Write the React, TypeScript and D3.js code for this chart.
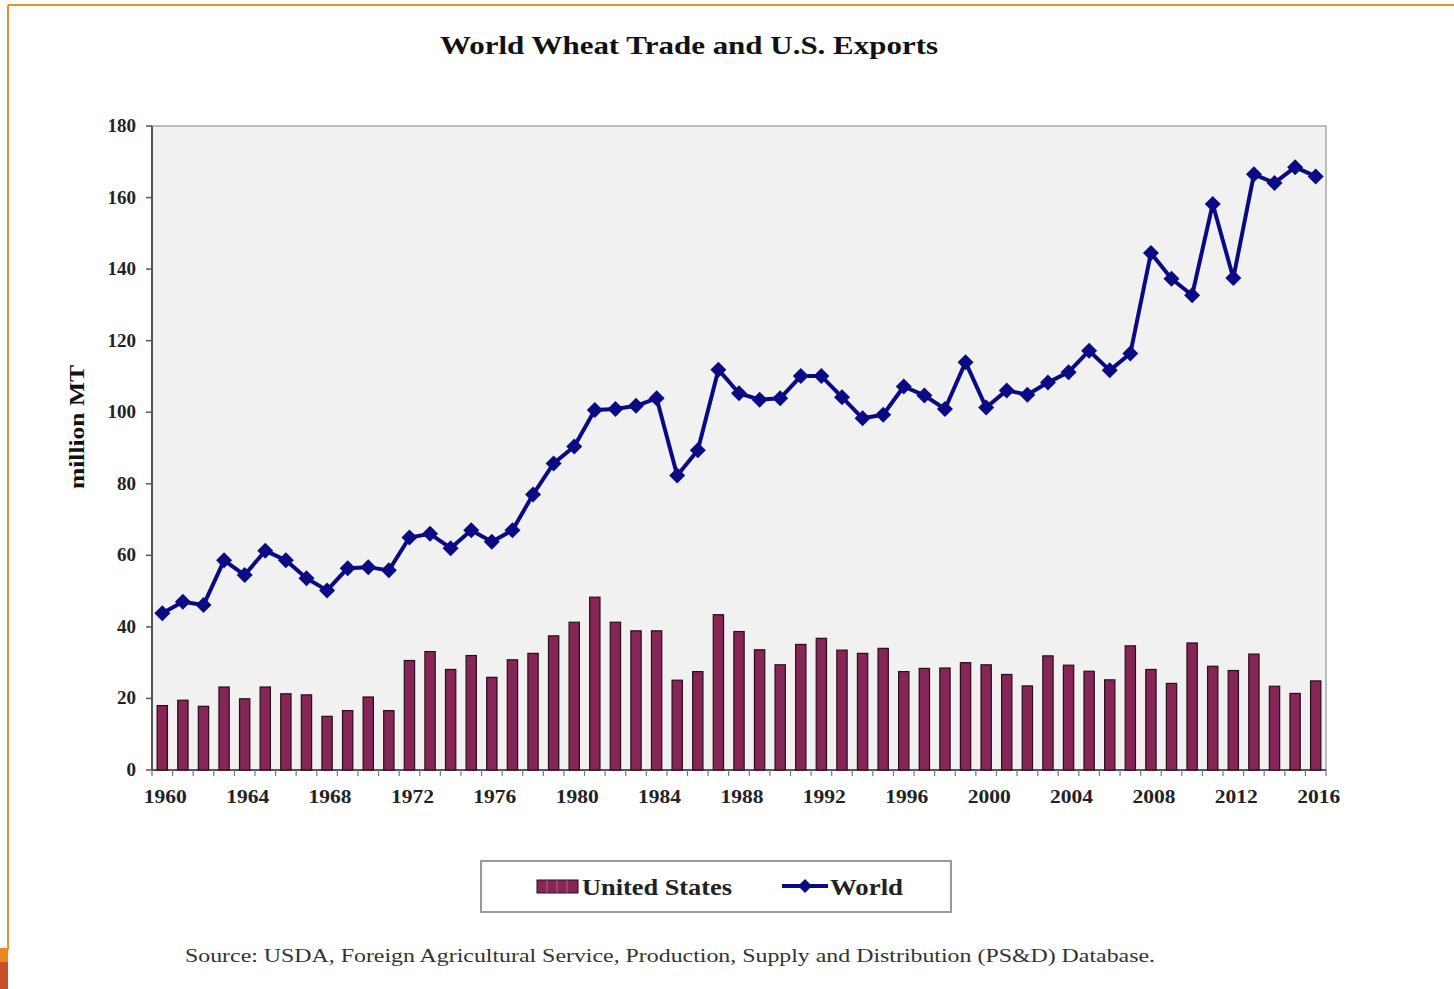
import React from "react";
import * as d3 from "d3";

const years: number[] = d3.range(1960, 2017);

const usExports: number[] = [
  18.0, 19.5, 17.8, 23.2, 19.9, 23.2, 21.3, 21.0, 15.0, 16.6,
  20.4, 16.6, 30.6, 33.1, 28.1, 32.0, 25.9, 30.8, 32.6, 37.5,
  41.3, 48.3, 41.3, 38.9, 38.9, 25.1, 27.5, 43.4, 38.7, 33.6,
  29.4, 35.1, 36.8, 33.5, 32.6, 34.0, 27.5, 28.4, 28.5, 30.0,
  29.4, 26.7, 23.5, 31.9, 29.3, 27.6, 25.2, 34.7, 28.1, 24.2,
  35.5, 29.0, 27.8, 32.4, 23.4, 21.4, 24.9,
];

const worldTrade: number[] = [
  43.8, 47.0, 46.1, 58.6, 54.5, 61.3, 58.6, 53.6, 50.2, 56.4,
  56.7, 55.8, 65.0, 66.0, 62.0, 67.0, 63.8, 67.0, 77.0, 85.7,
  90.4, 100.6, 100.9, 101.8, 103.9, 82.3, 89.4, 111.9, 105.3, 103.5,
  103.9, 110.1, 110.1, 104.2, 98.3, 99.3, 107.2, 104.7, 100.9, 114.0,
  101.3, 106.1, 104.9, 108.3, 111.2, 117.2, 111.7, 116.4, 144.5, 137.3,
  132.7, 158.2, 137.5, 166.5, 164.1, 168.5, 165.9,
];

const yTicks: number[] = [0, 20, 40, 60, 80, 100, 120, 140, 160, 180];
const xLabelYears: number[] = years.filter((y) => (y - 1960) % 4 === 0);

const titleText = "World Wheat Trade and U.S. Exports";
const yAxisTitle = "million MT";
const legendLabels: string[] = ["United States", "World"];
const sourceText =
  "Source: USDA,  Foreign Agricultural Service, Production, Supply and Distribution (PS&D) Database.";

const W = 1454;
const H = 989;
const plot = { left: 152, right: 1326, top: 126, bottom: 770 };
const serif = "'Liberation Serif', 'Times New Roman', serif";
const barFill = "#862656";
const barStroke = "#2a0c1c";
const lineColor = "#0a0a84";

export default function App() {
  const x = d3
    .scaleBand<number>()
    .domain(years)
    .range([plot.left, plot.right])
    .paddingInner(0.5)
    .paddingOuter(0.25);
  const y = d3.scaleLinear().domain([0, 180]).range([plot.bottom, plot.top]);
  const step = (plot.right - plot.left) / years.length;
  const cx = (yr: number) => plot.left + (years.indexOf(yr) + 0.5) * step;

  const line = d3
    .line<number>()
    .x((_, i) => cx(years[i]))
    .y((d) => y(d));

  const diamond = (px: number, py: number, r: number) =>
    `M${px},${py - r}L${px + r},${py}L${px},${py + r}L${px - r},${py}Z`;

  return (
    <svg
      width={W}
      height={H}
      style={{ position: "absolute", left: 0, top: 0, background: "#fff" }}
    >
      {/* orange frame */}
      <line x1={8} y1={5} x2={W} y2={5} stroke="#e8922e" strokeWidth={2} />
      <line x1={8} y1={5} x2={8} y2={950} stroke="#e8922e" strokeWidth={2} />
      <rect x={0} y={948} width={8} height={14} fill="#e88a20" />
      <rect x={0} y={962} width={8} height={27} fill="#c8502a" />

      {/* title */}
      <text
        x={689}
        y={54}
        textAnchor="middle"
        fontFamily={serif}
        fontWeight="bold"
        fontSize={26}
        fill="#111"
        textLength={498}
        lengthAdjust="spacingAndGlyphs"
      >
        {titleText}
      </text>

      {/* plot background */}
      <rect
        x={plot.left}
        y={plot.top}
        width={plot.right - plot.left}
        height={plot.bottom - plot.top}
        fill="#f1f1f1"
        stroke="#a8a8a8"
        strokeWidth={1.5}
      />

      {/* y axis */}
      <line x1={plot.left} y1={plot.top} x2={plot.left} y2={plot.bottom} stroke="#555" strokeWidth={2} />
      {yTicks.map((t) => (
        <g key={t}>
          <line x1={plot.left - 6} y1={y(t)} x2={plot.left} y2={y(t)} stroke="#555" strokeWidth={1.5} />
          <text
            x={136}
            y={y(t) + 6}
            textAnchor="end"
            fontFamily={serif}
            fontWeight="bold"
            fontSize={19}
            fill="#222"
          >
            {t}
          </text>
        </g>
      ))}
      <text
        transform={`translate(84,427) rotate(-90)`}
        textAnchor="middle"
        fontFamily={serif}
        fontWeight="bold"
        fontSize={22}
        fill="#111"
        textLength={124}
        lengthAdjust="spacingAndGlyphs"
      >
        {yAxisTitle}
      </text>

      {/* x axis */}
      <line x1={plot.left} y1={plot.bottom} x2={plot.right} y2={plot.bottom} stroke="#555" strokeWidth={2} />
      {d3.range(years.length + 1).map((i) => (
        <line
          key={i}
          x1={plot.left + i * step}
          y1={plot.bottom}
          x2={plot.left + i * step}
          y2={plot.bottom + 6}
          stroke="#777"
          strokeWidth={1.2}
        />
      ))}
      {xLabelYears.map((yr) => (
        <text
          key={yr}
          x={cx(yr) + 3}
          y={803}
          textAnchor="middle"
          fontFamily={serif}
          fontWeight="bold"
          fontSize={19}
          fill="#222"
          textLength={43}
          lengthAdjust="spacingAndGlyphs"
        >
          {yr}
        </text>
      ))}

      {/* bars */}
      {years.map((yr, i) => (
        <rect
          key={yr}
          x={cx(yr) - x.bandwidth() / 2}
          y={y(usExports[i])}
          width={x.bandwidth()}
          height={plot.bottom - y(usExports[i])}
          fill={barFill}
          stroke={barStroke}
          strokeWidth={1.2}
        />
      ))}

      {/* world line */}
      <path d={line(worldTrade) || ""} fill="none" stroke={lineColor} strokeWidth={4} strokeLinejoin="round" />
      {years.map((yr, i) => (
        <path key={yr} d={diamond(cx(yr), y(worldTrade[i]), 8)} fill={lineColor} />
      ))}

      {/* legend */}
      <rect x={481} y={861} width={470} height={51} fill="#fff" stroke="#9a9a9a" strokeWidth={2} />
      <rect x={537} y={880} width={41} height={13} fill={barFill} stroke={barStroke} strokeWidth={1} />
      {[547, 557, 567].map((lx) => (
        <line key={lx} x1={lx} y1={880} x2={lx} y2={893} stroke="#c46a94" strokeWidth={0.8} />
      ))}
      <text
        x={582}
        y={895}
        fontFamily={serif}
        fontWeight="bold"
        fontSize={24}
        fill="#222"
        textLength={150}
        lengthAdjust="spacingAndGlyphs"
      >
        {legendLabels[0]}
      </text>
      <line x1={782} y1={886} x2={828} y2={886} stroke={lineColor} strokeWidth={4} />
      <path d={diamond(805, 886, 7)} fill={lineColor} />
      <text
        x={830}
        y={895}
        fontFamily={serif}
        fontWeight="bold"
        fontSize={24}
        fill="#222"
        textLength={73}
        lengthAdjust="spacingAndGlyphs"
      >
        {legendLabels[1]}
      </text>

      {/* source */}
      <text
        x={185}
        y={962}
        fontFamily={serif}
        fontSize={19}
        fill="#333"
        textLength={970}
        lengthAdjust="spacingAndGlyphs"
      >
        {sourceText}
      </text>
    </svg>
  );
}
